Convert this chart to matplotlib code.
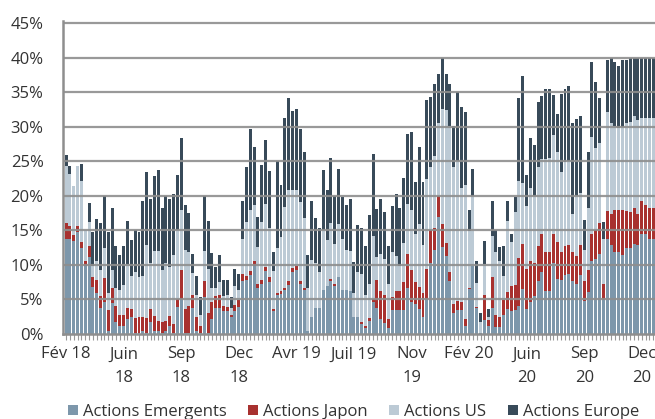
import matplotlib
matplotlib.use("Agg")
import matplotlib.pyplot as plt
import numpy as np

plt.rcParams['font.family'] = ['Open Sans', 'DejaVu Sans']

# weekly allocations in % (Feb 2018 -> Dec 2020)
emergents = [13.7, 13.8, 13.5, 14.7, 12.4, 9.9, 11.1, 6.8, 6.0, 3.8, 4.6, 0.5, 4.5, 1.7, 1.2, 1.2, 2.2, 2.4, 0.2, 0.1,
             0.5, 0.2, 1.7, 0.5, 0.5, 0.2, 0.5, 1.2, 0.1,
             3.9, 5.0, 0.2, 0.2, 3.8, 0.5, 0.2, 5.3, 0.1, 2.2, 3.8, 3.8, 3.3, 3.3, 2.4, 3.3, 3.9, 7.7, 7.8, 8.6, 9.9,
             6.7, 7.2, 9.1, 7.5, 3.3, 5.7, 5.8, 6.3, 7.1, 8.9, 9.3,
             7.2, 6.3, 0.5, 2.5, 3.8, 3.8, 6.4, 7.0, 7.7, 7.0, 8.3, 6.3, 6.3, 6.2, 2.5, 2.4, 1.4, 0.9, 1.9, 4.6,
             3.8, 2.2, 1.6, 0.8, 3.5, 3.5, 3.5, 3.5, 6.7, 4.6, 4.3,
             3.6, 2.4, 5.0, 10.3, 12.2, 17.0, 12.6, 11.3, 7.7, 3.1, 3.4, 3.5, 1.2, 6.5, 9.8, 3.7, 0.2, 2.0, 1.2, 3.8,
             1.0, 1.0, 2.8, 3.6, 3.3, 3.5, 4.1, 6.5, 3.6, 4.7, 5.5, 7.7,
             8.9, 6.2, 6.2, 10.3, 7.9, 7.8, 8.6, 8.7, 7.7, 7.2, 8.6, 4.8, 6.1, 10.5, 10.9, 11.6, 4.9, 13.7, 12.9, 11.9,
             11.8, 11.5, 12.4, 12.5, 13.0, 12.9, 14.5, 14.4, 13.8, 13.8]
japon = [2.3, 1.8, 0.8, 0.9, 0.9, 0.6, 1.6, 1.4, 1.8, 1.7, 3.5, 2.9, 2.2, 2.3, 1.6, 1.6, 1.6, 1.2, 2.1, 2.3,
         2.0, 2.1, 1.9, 2.1, 1.4, 1.6, 1.4, 1.4, 1.4,
         1.1, 4.3, 3.4, 3.9, 1.9, 1.9, 1.0, 2.3, 2.9, 2.5, 1.7, 1.9, 0.8, 0.6, 0.4, 0.9, 1.0, 1.0, 0.6, 0.5, 0.6,
         0.6, 0.6, 0.6, 0.7, 0.3, 0.3, 0.4, 0.4, 0.5, 0.6, 0.5,
         0.5, 0.4, 0.0, 0.0, 0.0, 0.0, 0.0, 0.0, 0.2, 0.2, 0.0, 0.0, 0.0, 0.0, 0.0, 0.0, 0.4, 0.3, 0.4, 0.4,
         4.0, 4.05, 4.1, 1.4, 1.9, 2.75, 2.75, 4.0, 4.9, 4.7, 3.2,
         3.2, 3.6, 4.4, 4.8, 3.1, 3.0, 3.3, 1.9, 1.3, 1.2, 1.4, 1.2, 1.0, 0.2, 0.1, 0.2, 0.0, 3.6, 0.8, 4.4,
         1.7, 1.5, 2.1, 2.5, 3.7, 3.6, 6.9, 6.5, 5.8, 5.8, 4.8, 5.0,
         5.5, 5.7, 5.6, 4.2, 5.4, 4.1, 4.1, 4.2, 4.1, 4.1, 4.3, 2.9, 3.1, 4.0, 4.2, 4.5, 2.3, 4.1, 4.4, 6.1,
         6.2, 6.5, 5.4, 5.1, 5.3, 4.4, 4.7, 4.2, 4.5, 4.5]
us = [8.3, 7.6, 7.1, 8.7, 8.8, 4.5, 3.5, 1.7, 2.7, 3.8, 4.4, 2.6, 2.5, 2.7, 3.6, 4.3, 6.4, 4.8, 6.6, 5.9,
      5.9, 10.6, 6.7, 9.4, 10.1, 7.4, 8.4, 7.1, 10.0,
      10.0, 8.6, 8.6, 7.7, 3.1, 3.3, 1.6, 4.4, 6.4, 2.0, 1.2, 1.8, 1.4, 1.8, 1.0, 2.8, 1.4, 5.1, 7.8, 8.8, 8.2,
      5.3, 8.4, 9.1, 7.1, 5.5, 6.5, 7.8, 11.7, 13.2, 11.4, 11.1,
      11.4, 10.1, 6.1, 8.2, 6.5, 5.2, 8.6, 6.6, 8.1, 5.8, 7.6, 7.5, 5.8, 5.8, 3.5, 6.5, 6.9, 4.5, 4.9, 9.2,
      3.4, 5.35, 5.1, 5.1, 6.4, 5.05, 3.65, 5.6, 7.2, 8.6, 7.0,
      9.1, 6.9, 13.0, 9.1, 10.5, 10.6, 16.6, 19.2, 21.1, 19.8, 20.2, 16.5, 19.3, 8.2, 10.0, 3.5, 1.6, 4.5, 0.4, 6.0,
      9.1, 8.0, 3.5, 10.2, 6.3, 10.5, 11.2, 8.8, 9.1, 10.6, 9.7, 11.4,
      10.9, 13.4, 13.6, 14.3, 13.1, 11.5, 12.2, 12.1, 5.5, 8.7, 7.5, 4.5, 9.1, 14.0, 11.8, 11.5, 6.5, 14.3, 13.3, 12.1,
      11.8, 12.0, 12.8, 13.1, 13.3, 13.6, 12.1, 12.7, 12.9, 12.9]
europe = [1.6, 1.1, 0.0, 0.0, 2.5, 0.0, 2.7, 4.9, 6.1, 6.7, 7.5, 8.8, 9.0, 6.0, 5.1, 5.7, 6.1, 5.2, 6.1, 6.4,
          10.8, 10.6, 9.2, 10.9, 11.8, 9.1, 9.7, 9.8, 8.8,
          8.0, 10.4, 6.5, 5.7, 2.8, 2.7, 2.6, 8.0, 6.9, 5.0, 3.0, 4.0, 2.3, 2.1, 1.5, 2.4, 2.4, 5.5, 7.9, 11.8, 8.3,
          4.4, 8.3, 9.3, 8.3, 2.7, 12.5, 7.6, 12.9, 13.4, 11.4, 11.7,
          10.6, 9.5, 4.9, 8.6, 6.5, 6.4, 8.7, 7.3, 9.4, 7.0, 8.0, 6.0, 6.5, 7.5, 4.4, 6.9, 6.7, 7.1, 10.0, 11.9,
          6.9, 8.0, 6.9, 5.4, 6.7, 9.0, 8.3, 9.5, 10.2, 11.4, 7.5,
          11.1, 9.1, 11.4, 10.1, 10.4, 7.0, 7.5, 5.2, 6.1, 6.0, 10.0, 11.7, 10.6, 3.1, 4.0, 3.1, 1.3, 3.4, 1.2, 5.1,
          3.2, 2.1, 4.3, 3.0, 1.2, 2.2, 11.9, 15.5, 4.5, 7.3, 7.4, 9.5,
          9.2, 10.1, 10.0, 5.8, 5.4, 11.3, 10.5, 10.9, 13.2, 11.1, 11.2, 4.3, 8.0, 10.9, 9.6, 6.5, 2.5, 7.5, 9.3, 9.3,
          9.0, 9.6, 9.0, 9.2, 8.3, 9.0, 8.6, 8.6, 8.7, 8.7]

label_pos = [0, 15, 30, 45, 60, 75, 90, 105, 120, 135, 150]
label_txt = ["Fév 18", "Juin\n18", "Sep\n18", "Dec\n18", "Avr 19", "Juil 19",
             "Nov\n19", "Fév 20", "Juin\n20", "Sep\n20", "Dec\n20"]

series = [("Actions Emergents", emergents, "#7d97ab"),
          ("Actions Japon", japon, "#a8312f"),
          ("Actions US", us, "#bccad5"),
          ("Actions Europe", europe, "#384a59")]

n = len(emergents)
x = np.arange(n)

fig = plt.figure(figsize=(6.55, 4.19), dpi=100)
ax = fig.add_axes([0.0962, 0.2029, 0.9038, 0.747])

bottom = np.zeros(n)
for name, vals, col in series:
    vals = np.array(vals)
    ax.bar(x, vals, 0.78, bottom=bottom, color=col, label=name, zorder=2, linewidth=0)
    bottom += vals

grid_col = "#8e8e8e"
for v in range(5, 50, 5):
    ax.axhline(v, color=grid_col, lw=1.6, zorder=3, alpha=0.9)

ax.set_ylim(0, 45.3)
ax.set_xlim(-0.8, n - 0.55)
ax.set_yticks(range(0, 50, 5))
ax.set_yticklabels([f"{v}%" for v in range(0, 50, 5)])
ax.tick_params(axis="y", length=0, pad=14, labelsize=12, labelcolor="#333333")

ax.set_xticks(x, minor=True)
ax.set_xticks(label_pos)
ax.set_xticklabels(label_txt, fontsize=12, color="#333333", linespacing=1.6, va="top")
ax.tick_params(axis="x", which="both", length=4, width=0.8, color="#999999", pad=5)

for s in ["top", "right"]:
    ax.spines[s].set_visible(False)
for s in ["left", "bottom"]:
    ax.spines[s].set_color(grid_col)
    ax.spines[s].set_linewidth(1.8)
    ax.spines[s].set_zorder(4)

fig.legend(loc="center left", bbox_to_anchor=(0.093, 0.017), ncol=4, frameon=False,
           fontsize=12, handlelength=0.6, handleheight=0.6, handletextpad=0.3,
           columnspacing=1.3, labelcolor="#333333", borderaxespad=0)

fig.savefig("out.png", dpi=100)
